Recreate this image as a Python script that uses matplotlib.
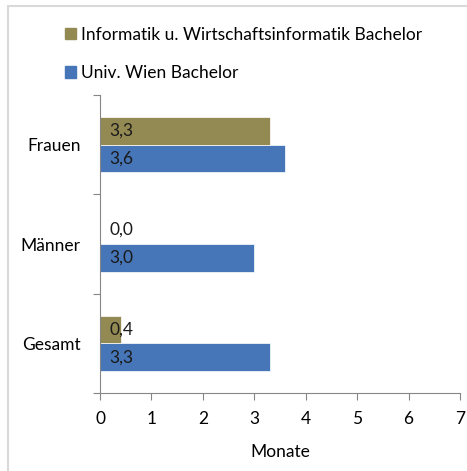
import matplotlib.pyplot as plt
from matplotlib.patches import Rectangle, Patch

categories = ["Gesamt", "Männer", "Frauen"]
informatik = [0.4, 0.0, 3.3]
univ_wien = [3.3, 3.0, 3.6]
labels_inf = ["0,4", "0,0", "3,3"]
labels_uw = ["3,3", "3,0", "3,6"]

olive = "#938953"
blue = "#4676b8"

plt.rcParams['font.family'] = ['Lato', 'DejaVu Sans']
fs = 12.5

W, H = 467, 471
fig = plt.figure(figsize=(W / 100, H / 100), dpi=100)

# frame around chart (only left/top visible)
fig.patches.append(Rectangle((8 / W, -0.2), 1.2, 1.2 - 6 / H, transform=fig.transFigure,
                             fill=False, edgecolor="#d9d9d9", linewidth=1.5))

ax = fig.add_axes([100 / W, 1 - 393 / H, 360 / W, 298 / H])

h = 0.28
ypos = range(len(categories))
ax.barh([y - h / 2 for y in ypos], univ_wien, height=h, color=blue, edgecolor="white", linewidth=0.5)
ax.barh([y + h / 2 for y in ypos], informatik, height=h, color=olive, edgecolor="white", linewidth=0.5)

for y, lab in zip(ypos, labels_uw):
    ax.text(0.18, y - h / 2, lab, va="center", ha="left", fontsize=fs, color="#1a1a1a")
for y, lab in zip(ypos, labels_inf):
    ax.text(0.18, y + h / 2, lab, va="center", ha="left", fontsize=fs, color="#1a1a1a")

ax.set_xlim(0, 7)
ax.set_ylim(-0.5, 2.5)
ax.set_xticks(range(8))
ax.set_yticks([-0.5, 0.5, 1.5, 2.5], minor=False)
ax.set_yticklabels([])
ax.set_yticks(list(ypos), minor=True)
ax.set_yticklabels(categories, minor=True, fontsize=fs)
ax.tick_params(axis="y", which="minor", length=0, pad=14)
ax.tick_params(axis="y", which="major", length=5, color="#868686", direction="out")
ax.tick_params(axis="x", length=5, color="#868686", direction="out", labelsize=fs, pad=8)

for s in ["top", "right"]:
    ax.spines[s].set_visible(False)
for s in ["left", "bottom"]:
    ax.spines[s].set_color("#868686")

ax.set_xlabel("Monate", fontsize=fs, labelpad=12)

handles = [Patch(color=olive), Patch(color=blue)]
fig.legend(handles, ["Informatik u. Wirtschaftsinformatik Bachelor", "Univ. Wien Bachelor"],
           loc="upper left", bbox_to_anchor=(49 / W, 1 - 11 / H), frameon=False, fontsize=fs,
           handlelength=0.65, handleheight=0.65, handletextpad=0.3, labelspacing=1.3)

fig.savefig("out.png", dpi=100)
